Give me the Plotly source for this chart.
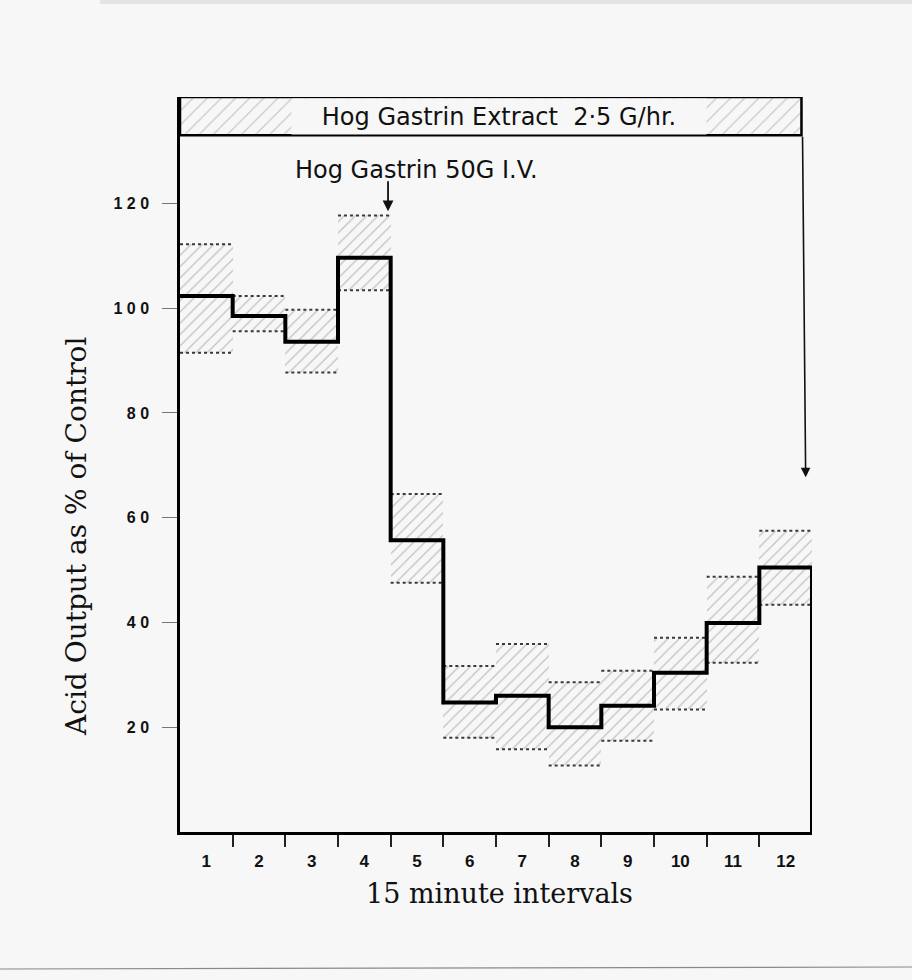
import plotly.graph_objects as go

# ---------------- data ----------------
intervals = list(range(1, 13))
tick_labels = [str(i) for i in intervals]
mean_pct = [102.3, 98.5, 93.6, 109.6, 55.7, 24.7, 26.0, 20.0, 24.1, 30.4, 39.9, 50.5]
upper_pct = [112.2, 102.3, 99.7, 117.7, 64.5, 31.7, 35.9, 28.6, 30.8, 37.1, 48.7, 57.5]
lower_pct = [91.5, 95.6, 87.7, 103.4, 47.6, 18.0, 15.8, 12.7, 17.4, 23.4, 32.3, 43.4]
y_tick_vals = [20, 40, 60, 80, 100, 120]
y_tick_text = ["2 0", "4 0", "6 0", "8 0", "1 0 0", "1 2 0"]

infusion_label = "Hog Gastrin Extract  2·5 G/hr."
bolus_label = "Hog Gastrin 50G I.V."
bolus_interval = 4
x_title = "15 minute intervals"
y_title = "Acid Output as % of Control"

# ---------------- layout constants ----------------
W, H = 912, 980
ML, MR, MT, MB = 180, 100, 97, 148
BG = "#f7f7f7"
Y_TOP = 140.3
BOX_BOTTOM = 133.0
BOX_RIGHT = 11.8
n = len(intervals)
plot_w = W - ML - MR
plot_h = H - MT - MB


def px_x(px):
    return (px - ML) / plot_w


def px_y(py):
    return (H - MB - py) / plot_h


centers = [i - 0.5 for i in intervals]
boundaries = list(range(1, n))

fig = go.Figure()

# hatched SEM bands
fig.add_trace(go.Bar(
    x=centers,
    y=[u - l for u, l in zip(upper_pct, lower_pct)],
    base=lower_pct,
    width=1.0,
    marker=dict(
        color="rgba(0,0,0,0)",
        line=dict(width=0),
        pattern=dict(shape="/", size=8, solidity=0.16, fgcolor="#8c8c8c",
                     bgcolor="rgba(0,0,0,0)", fillmode="overlay"),
    ),
    hoverinfo="skip",
    showlegend=False,
))

# dotted upper / lower edges
ex, eu, el = [], [], []
for i, (u, l) in enumerate(zip(upper_pct, lower_pct)):
    ex += [i, i + 1, None]
    eu += [u, u, None]
    el += [l, l, None]
for ys in (eu, el):
    fig.add_trace(go.Scatter(
        x=ex, y=ys, mode="lines",
        line=dict(color="#3a3a3a", width=2, dash="dot"),
        hoverinfo="skip", showlegend=False,
    ))

# mean step line
step_x = list(range(0, n + 1)) + [n]
step_y = mean_pct + [mean_pct[-1], 0]
fig.add_trace(go.Scatter(
    x=step_x, y=step_y, mode="lines", line_shape="hv",
    line=dict(color="#000000", width=4),
    hoverinfo="skip", showlegend=False,
))

# hatched infusion box at top
fig.add_trace(go.Scatter(
    x=[0, BOX_RIGHT, BOX_RIGHT, 0, 0],
    y=[BOX_BOTTOM, BOX_BOTTOM, Y_TOP, Y_TOP, BOX_BOTTOM],
    mode="lines", fill="toself",
    fillcolor="rgba(0,0,0,0)",
    fillpattern=dict(shape="/", size=10, solidity=0.12, fgcolor="#9a9a9a",
                     bgcolor="rgba(0,0,0,0)", fillmode="overlay"),
    line=dict(color="#000000", width=2.5),
    hoverinfo="skip", showlegend=False,
))

fig.update_layout(
    width=W, height=H,
    margin=dict(l=ML, r=MR, t=MT, b=MB),
    paper_bgcolor=BG, plot_bgcolor=BG,
    bargap=0, showlegend=False,
    xaxis=dict(
        range=[0, n], showgrid=False, zeroline=False,
        showline=True, linecolor="#000", linewidth=2.5,
        tickmode="array", tickvals=centers, ticktext=tick_labels,
        ticks="outside", ticklen=12, tickcolor="rgba(0,0,0,0)",
        tickfont=dict(family="Liberation Sans", size=17, color="#111", weight="bold"),
        minor=dict(tickmode="array", tickvals=boundaries, ticks="outside",
                   ticklen=12, tickwidth=1.5, tickcolor="#222", showgrid=False),
    ),
    yaxis=dict(
        range=[0, Y_TOP], showgrid=False, zeroline=False,
        showline=True, linecolor="#000", linewidth=2.5,
        tickmode="array", tickvals=y_tick_vals, ticktext=y_tick_text,
        ticks="outside", ticklen=15, tickwidth=1, tickcolor="#777",
        ticklabelstandoff=10,
        tickfont=dict(family="Liberation Sans", size=16, color="#111", weight="bold"),
    ),
    font=dict(family="DejaVu Sans", color="#111"),
)

annotations = [
    dict(x=6.05, y=(BOX_BOTTOM + Y_TOP) / 2, xref="x", yref="y",
         xanchor="center", yanchor="middle",
         text=infusion_label, showarrow=False,
         font=dict(family="DejaVu Sans", size=24, color="#111"),
         bgcolor=BG, width=412, height=33),
    dict(x=px_x(416), y=px_y(170), xref="paper", yref="paper",
         xanchor="center", yanchor="middle", text=bolus_label, showarrow=False,
         font=dict(family="DejaVu Sans", size=24, color="#111")),
    dict(x=bolus_interval - 0.05, y=upper_pct[bolus_interval - 1] + 0.8,
         ax=bolus_interval - 0.05, ay=124.5, xref="x", yref="y", axref="x", ayref="y",
         text="", showarrow=True, arrowhead=2, arrowsize=1.2, arrowwidth=1.8,
         arrowcolor="#111"),
    dict(x=BOX_RIGHT + 0.08, y=67.7, ax=BOX_RIGHT + 0.02, ay=BOX_BOTTOM,
         xref="x", yref="y", axref="x", ayref="y",
         text="", showarrow=True, arrowhead=2, arrowsize=1.2, arrowwidth=1.6,
         arrowcolor="#111"),
    dict(x=px_x(499), y=px_y(893), xref="paper", yref="paper", text=x_title,
         xanchor="center", yanchor="middle",
         showarrow=False, font=dict(family="DejaVu Serif", size=27, color="#111")),
    dict(x=px_x(76), y=px_y(537), xref="paper", yref="paper", text=y_title,
         xanchor="center", yanchor="middle",
         textangle=-90, showarrow=False,
         font=dict(family="DejaVu Serif", size=28, color="#111")),
]
fig.update_layout(annotations=annotations)

fig.update_layout(shapes=[
    dict(type="rect", xref="paper", yref="paper", x0=px_x(100), x1=px_x(912),
         y0=px_y(4), y1=px_y(0), fillcolor="#e4e4e4", line=dict(width=0), layer="below"),
    dict(type="line", xref="paper", yref="paper", x0=px_x(0), x1=px_x(912),
         y0=px_y(969), y1=px_y(967), line=dict(color="#8a8a8a", width=1.2)),
])

fig.write_html("out.html", config={"displayModeBar": False},
               post_script="document.body.style.margin='0';")
